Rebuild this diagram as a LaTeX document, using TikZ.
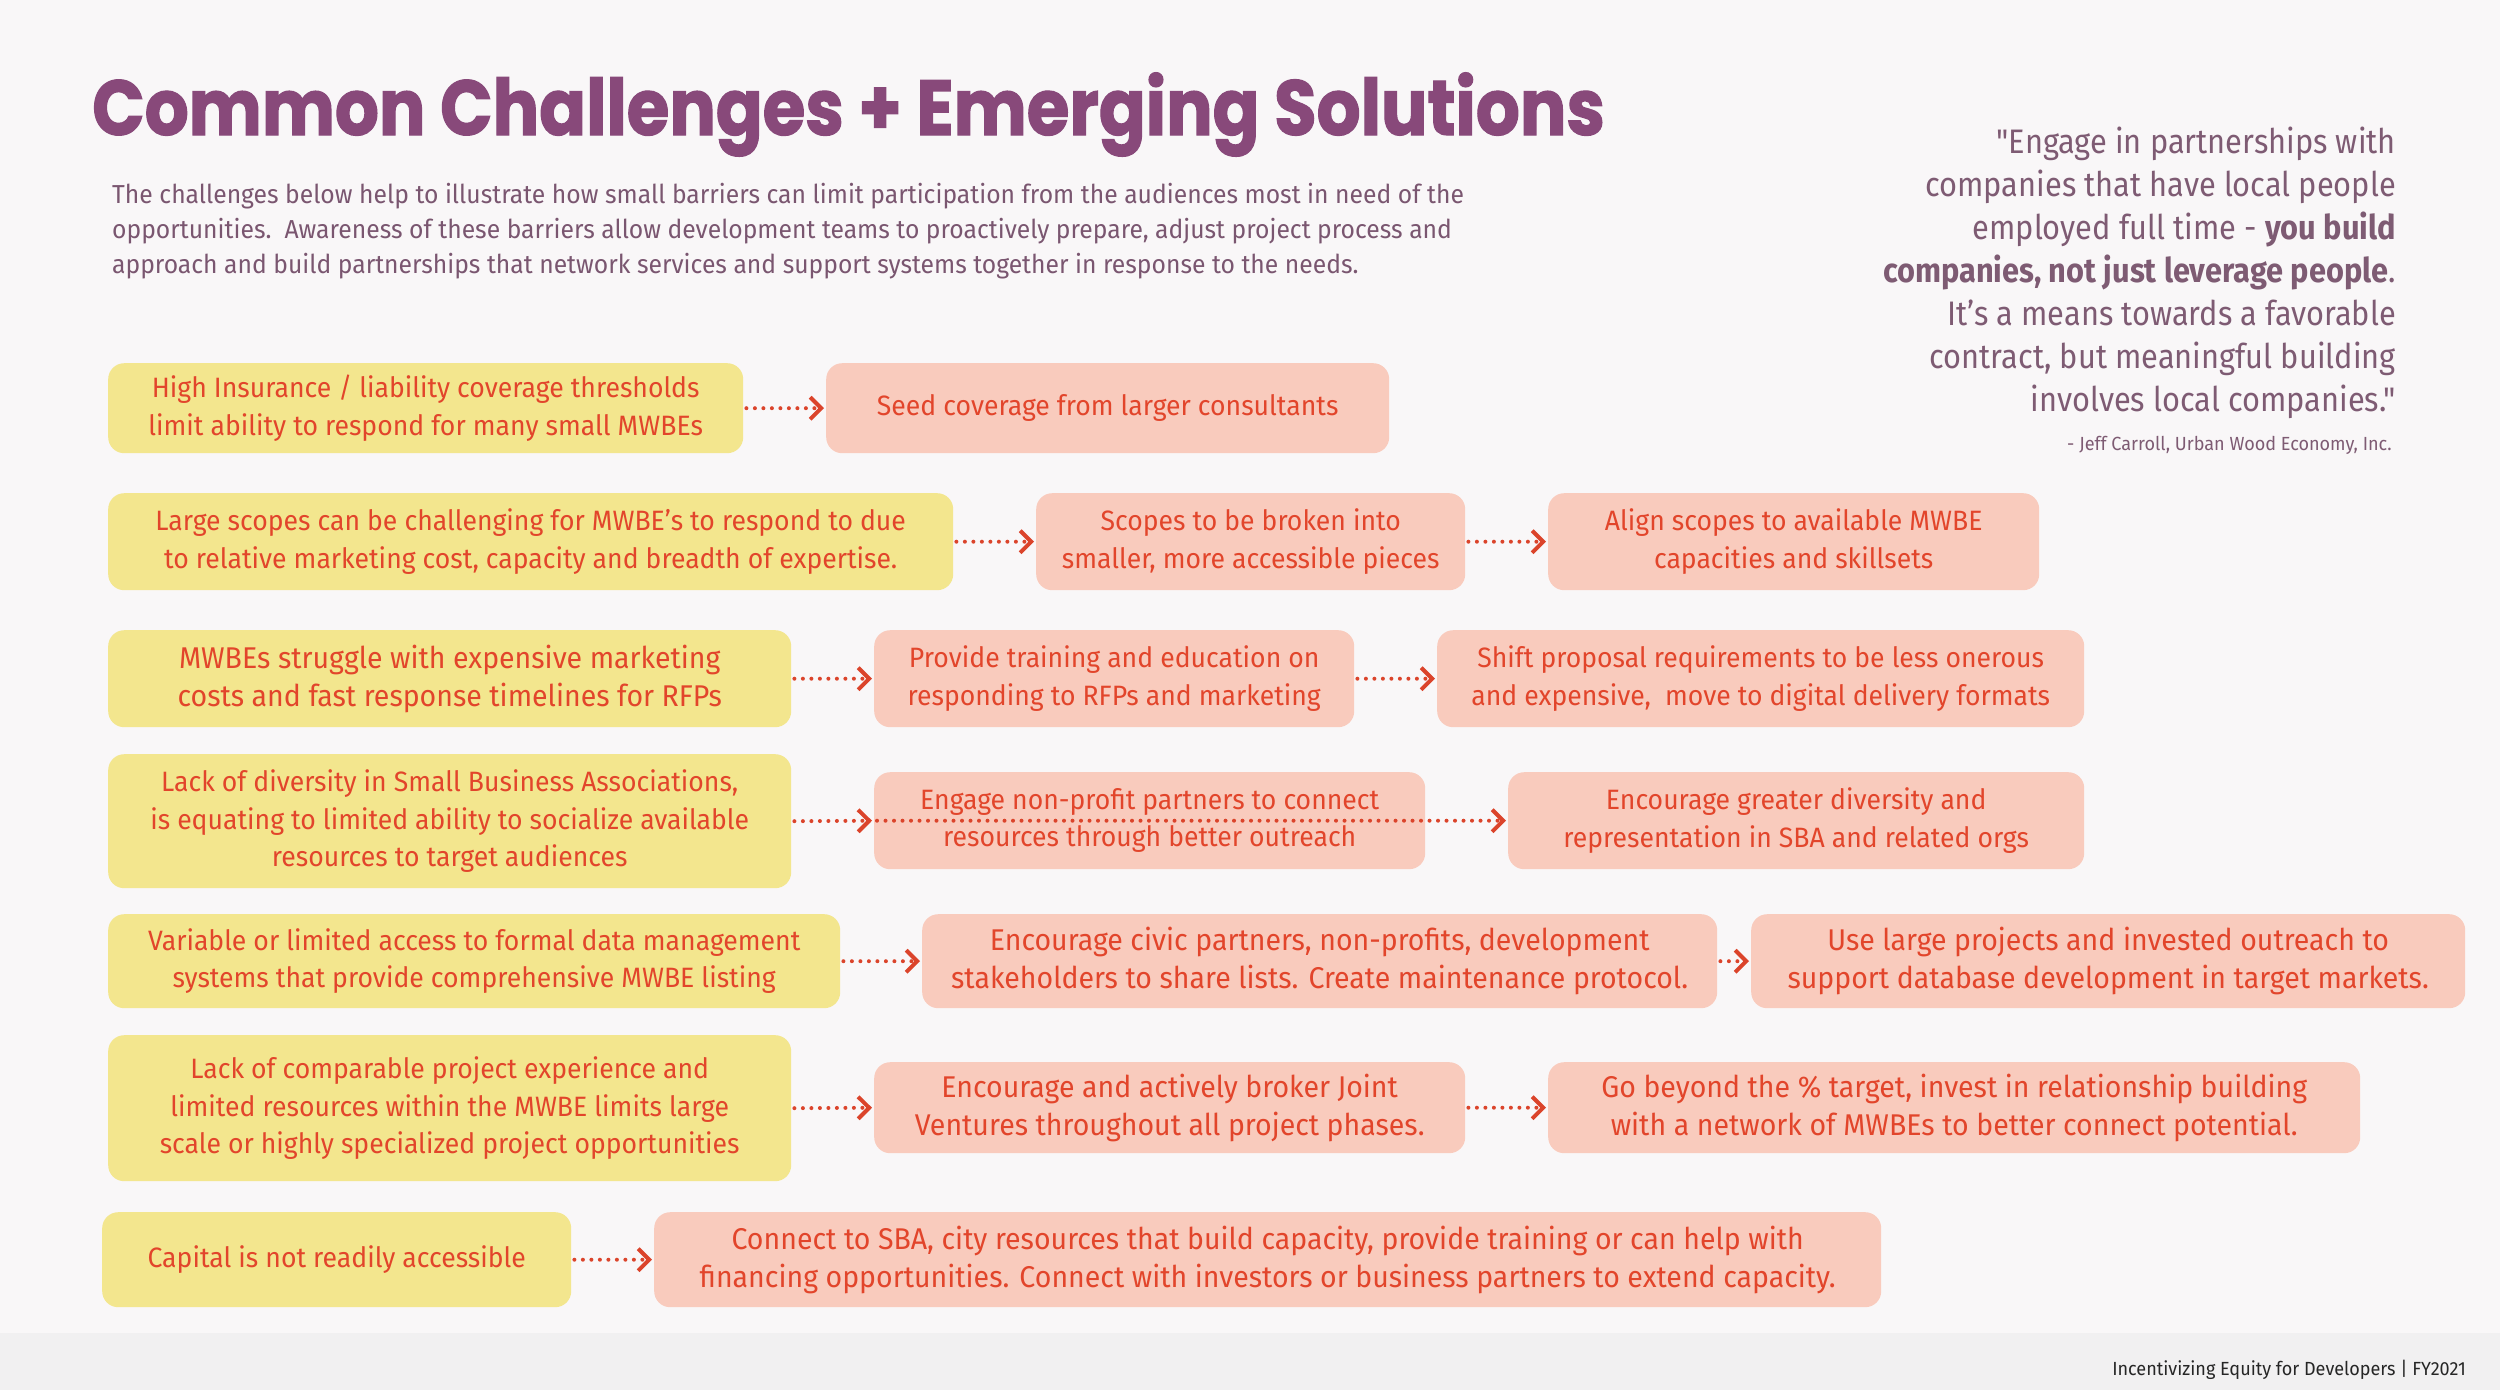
\documentclass[tikz,border=0pt]{standalone}
\usepackage{fontspec}
\setmainfont{Fira Sans}[FakeStretch=0.95]
\newfontfamily\headfont{Poppins}[FakeStretch=0.885, FakeBold=1.5]
\newfontfamily\quotefont{Fira Sans}[FakeStretch=0.905]
\usetikzlibrary{arrows.meta}

\definecolor{pagebg}{HTML}{F9F7F8}
\definecolor{footbg}{HTML}{F1F0F1}
\definecolor{headplum}{HTML}{88497A}
\definecolor{introplum}{HTML}{7A5670}
\definecolor{quoteplum}{HTML}{7E5B73}
\definecolor{needyellow}{HTML}{F3E68E}
\definecolor{answerpink}{HTML}{F9CBBD}
\definecolor{boxred}{HTML}{E2452B}
\definecolor{leadred}{HTML}{DB442B}

\tikzset{
	challenge/.style = {fill=needyellow, rounded corners=16pt, text=boxred, align=center,
		inner sep=0pt, anchor=north west, font=\fontsize{28}{37.5}\selectfont},
	answer/.style = {challenge, fill=answerpink},
	bigtext/.style = {font=\fontsize{30}{38}\selectfont},
	leadsto/.style = {draw=leadred, line width=4pt, line cap=round, dash pattern=on 0pt off 8.5pt,
		shorten <=3pt, shorten >=2pt,
		-{Straight Barb[length=11pt, width=22pt, line width=4pt]}}
}

\begin{document}
\begin{tikzpicture}[x=1pt, y=-1pt]
	\useasboundingbox (0,0) rectangle (2500,1390);
	\fill[pagebg] (0,0) rectangle (2500,1390);
	\fill[footbg] (0,1333) rectangle (2500,1390);

	% heading and intro
	\node[anchor=base west, inner sep=0pt, text=headplum, font=\fontsize{78}{80}\selectfont\headfont\bfseries] (head) at (92,135) {Common Challenges + Emerging Solutions};
	\node[anchor=north west, inner sep=0pt, text=introplum, align=left, font=\fontsize{26}{35}\selectfont] (intro) at (112,183) {The challenges below help to illustrate how small barriers can limit participation from the audiences most in need of the\\opportunities.\ \ Awareness of these barriers allow development teams to proactively prepare, adjust project process and\\approach and build partnerships that network services and support systems together in response to the needs.};

	% quote
	\node[anchor=north east, inner sep=0pt, text=quoteplum, align=right, font=\fontsize{34}{43}\selectfont\quotefont] (quote) at (2396,127) {"Engage in partnerships with\\companies that have local people\\employed full time - \textbf{you build}\\\textbf{companies, not just leverage people}.\\It’s a means towards a favorable\\contract, but meaningful building\\involves local companies."};
	\node[anchor=base east, inner sep=0pt, text=quoteplum, font=\fontsize{19}{22}\selectfont] (source) at (2392,450) {- Jeff Carroll, Urban Wood Economy, Inc.};

	% row 1
	\node[challenge, minimum width=635pt, minimum height=90pt] (c1) at (108,363) {High Insurance / liability coverage thresholds\\limit ability to respond for many small MWBEs};
	\node[answer, minimum width=563pt, minimum height=90pt] (s1a) at (826,363) {Seed coverage from larger consultants};
	% row 2
	\node[challenge, minimum width=845pt, minimum height=97pt] (c2) at (108,493) {Large scopes can be challenging for MWBE's to respond to due\\to relative marketing cost, capacity and breadth of expertise.};
	\node[answer, minimum width=429pt, minimum height=97pt] (s2a) at (1036,493) {Scopes to be broken into\\smaller, more accessible pieces};
	\node[answer, minimum width=491pt, minimum height=97pt] (s2b) at (1548,493) {Align scopes to available MWBE\\capacities and skillsets};
	% row 3
	\node[challenge, bigtext, minimum width=683pt, minimum height=97pt] (c3) at (108,630) {MWBEs struggle with expensive marketing\\costs and fast response timelines for RFPs};
	\node[answer, minimum width=480pt, minimum height=97pt] (s3a) at (874,630) {Provide training and education on\\responding to RFPs and marketing};
	\node[answer, minimum width=647pt, minimum height=97pt] (s3b) at (1437,630) {Shift proposal requirements to be less onerous\\and expensive,\ \ move to digital delivery formats};
	% row 4
	\node[challenge, minimum width=683pt, minimum height=134pt] (c4) at (108,754) {Lack of diversity in Small Business Associations,\\is equating to limited ability to socialize available\\resources to target audiences};
	\node[answer, minimum width=551pt, minimum height=97pt] (s4a) at (874,772) {Engage non-profit partners to connect\\resources through better outreach};
	\node[answer, minimum width=576pt, minimum height=97pt] (s4b) at (1508,772) {Encourage greater diversity and\\representation in SBA and related orgs};
	% row 5
	\node[challenge, minimum width=732pt, minimum height=94pt] (c5) at (108,914) {Variable or limited access to formal data management\\systems that provide comprehensive MWBE listing};
	\node[answer, bigtext, minimum width=795pt, minimum height=94pt] (s5a) at (922,914) {Encourage civic partners, non-profits, development\\stakeholders to share lists. Create maintenance protocol.};
	\node[answer, bigtext, minimum width=714pt, minimum height=94pt] (s5b) at (1751,914) {Use large projects and invested outreach to\\support database development in target markets.};
	% row 6
	\node[challenge, minimum width=683pt, minimum height=146pt] (c6) at (108,1035) {Lack of comparable project experience and\\limited resources within the MWBE limits large\\scale or highly specialized project opportunities};
	\node[answer, bigtext, minimum width=591pt, minimum height=91pt] (s6a) at (874,1062) {Encourage and actively broker Joint\\Ventures throughout all project phases.};
	\node[answer, bigtext, minimum width=812pt, minimum height=91pt] (s6b) at (1548,1062) {Go beyond the \% target, invest in relationship building\\with a network of MWBEs to better connect potential.};
	% row 7
	\node[challenge, minimum width=469pt, minimum height=95pt] (c7) at (102,1212) {Capital is not readily accessible};
	\node[answer, bigtext, minimum width=1227pt, minimum height=95pt] (s7a) at (654,1212) {Connect to SBA, city resources that build capacity, provide training or can help with\\financing opportunities. Connect with investors or business partners to extend capacity.};

	% dotted leads
	\draw[leadsto] (c1.east) -- (s1a.west);
	\draw[leadsto] (c2.east) -- (s2a.west);
	\draw[leadsto] (s2a.east) -- (s2b.west);
	\draw[leadsto] (c3.east) -- (s3a.west);
	\draw[leadsto] (s3a.east) -- (s3b.west);
	\draw[leadsto] (c4.east) -- (s4a.west);
	\draw[leadsto] (s4a.west) -- (s4b.west);
	\draw[leadsto] (c5.east) -- (s5a.west);
	\draw[leadsto] (s5a.east) -- (s5b.west);
	\draw[leadsto] (c6.east) -- (s6a.west);
	\draw[leadsto] (s6a.east) -- (s6b.west);
	\draw[leadsto] (c7.east) -- (s7a.west);

	\node[anchor=base east, inner sep=0pt, text=black!85, font=\fontsize{19}{22}\selectfont] (foot) at (2466,1375) {Incentivizing Equity for Developers | FY2021};
\end{tikzpicture}
\end{document}
